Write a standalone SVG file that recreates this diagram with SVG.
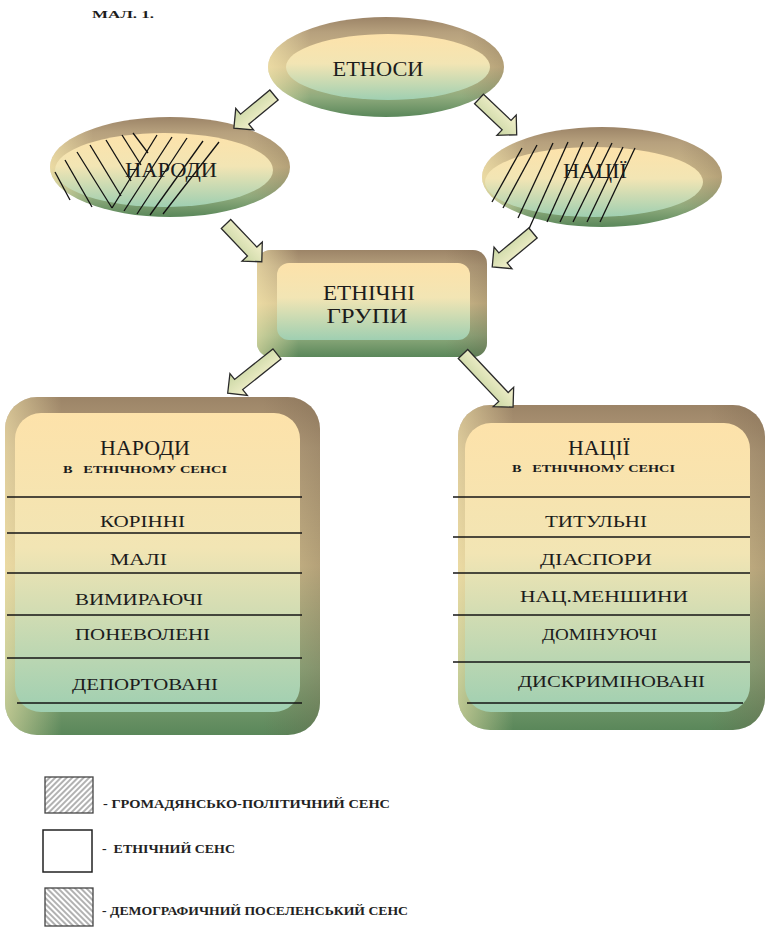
<svg xmlns="http://www.w3.org/2000/svg" width="767" height="929" viewBox="0 0 767 929">
<style>
.lbl{font-family:"Liberation Serif","DejaVu Serif",serif;fill:#1c1c1c;text-anchor:middle}
.big{font-size:21px}
.item{font-size:17px}
.sub{font-size:10px;font-weight:bold;white-space:pre}
.leg{font-family:"Liberation Serif","DejaVu Serif",serif;font-size:12px;font-weight:bold;fill:#222;white-space:pre}
.hatch{stroke:#111;stroke-width:1.3;fill:none}
.row{stroke:#151515;stroke-width:1.3}
.rim{fill:url(#rimV)}
.rimH{fill:url(#rimH)}
.face{fill:url(#faceV)}
.arrow{fill:url(#arrG);stroke:#2a2a2a;stroke-width:1.3;stroke-linejoin:miter}
</style>
<defs>
<linearGradient id="rimV" x1="0" y1="0" x2="0" y2="1">
<stop offset="0" stop-color="#9c8467"/>
<stop offset="0.15" stop-color="#b6a07d"/>
<stop offset="0.5" stop-color="#d2bf8e"/>
<stop offset="0.8" stop-color="#8fab7d"/>
<stop offset="1" stop-color="#5a875a"/>
</linearGradient>
<linearGradient id="rimH" x1="0" y1="0" x2="1" y2="0">
<stop offset="0" stop-color="#fff0b4" stop-opacity="0.55"/>
<stop offset="0.18" stop-color="#fff0b4" stop-opacity="0"/>
<stop offset="0.82" stop-color="#6e5a45" stop-opacity="0"/>
<stop offset="1" stop-color="#6e5a45" stop-opacity="0.3"/>
</linearGradient>
<linearGradient id="faceV" x1="0" y1="0" x2="0" y2="1">
<stop offset="0" stop-color="#fde2aa"/>
<stop offset="0.45" stop-color="#f2e5b4"/>
<stop offset="1" stop-color="#9fcfb1"/>
</linearGradient>
<linearGradient id="arrG" x1="0" y1="0" x2="0" y2="1">
<stop offset="0" stop-color="#f6f2cf"/>
<stop offset="1" stop-color="#c7d5a1"/>
</linearGradient>
<pattern id="hatchF" width="4" height="4" patternUnits="userSpaceOnUse" patternTransform="rotate(45)">
<rect width="4" height="4" fill="#fff"/>
<line x1="1" y1="0" x2="1" y2="4" stroke="#888" stroke-width="1.3"/>
</pattern>
<pattern id="hatchB" width="4" height="4" patternUnits="userSpaceOnUse" patternTransform="rotate(-45)">
<rect width="4" height="4" fill="#fff"/>
<line x1="1" y1="0" x2="1" y2="4" stroke="#888" stroke-width="1.3"/>
</pattern>
</defs>

<rect width="767" height="929" fill="#fff"/>

<text class="lbl" x="92" y="18" style="text-anchor:start;font-size:11px;font-weight:bold" textLength="62" lengthAdjust="spacingAndGlyphs">МАЛ. 1.</text>

<g id="node-etnosy">
<ellipse class="rim" cx="386" cy="67" rx="118" ry="50"/>
<ellipse class="rimH" cx="386" cy="67" rx="118" ry="50"/>
<ellipse class="face" cx="388" cy="67" rx="102" ry="33"/>
<text class="lbl big" x="378" y="76" textLength="91" lengthAdjust="spacingAndGlyphs">ЕТНОСИ</text>
</g>

<g id="node-narody">
<ellipse class="rim" cx="170" cy="167" rx="120" ry="50"/>
<ellipse class="rimH" cx="170" cy="167" rx="120" ry="50"/>
<ellipse class="face" cx="164" cy="170" rx="109" ry="37"/>
<g class="hatch">
<line x1="55" y1="172" x2="70" y2="200"/>
<line x1="65" y1="160" x2="92" y2="207"/>
<line x1="77" y1="152" x2="112" y2="208"/>
<line x1="90" y1="145" x2="121" y2="196"/>
<line x1="106" y1="140" x2="131" y2="181"/>
<line x1="122" y1="135" x2="141" y2="165"/>
<line x1="133" y1="133" x2="148" y2="153"/>
<line x1="112" y1="208" x2="157" y2="135"/>
<line x1="124" y1="211" x2="172" y2="137"/>
<line x1="137" y1="214" x2="187" y2="138"/>
<line x1="150" y1="215" x2="203" y2="141"/>
<line x1="163" y1="214" x2="219" y2="142"/>
</g>
<text class="lbl big" x="171" y="177" textLength="92" lengthAdjust="spacingAndGlyphs">НАРОДИ</text>
</g>

<g id="node-natsii">
<ellipse class="rim" cx="602" cy="177" rx="120" ry="50"/>
<ellipse class="rimH" cx="602" cy="177" rx="120" ry="50"/>
<ellipse class="face" cx="594" cy="182" rx="109" ry="35"/>
<g class="hatch">
<line x1="492" y1="202" x2="522" y2="148"/>
<line x1="503" y1="208" x2="537" y2="145"/>
<line x1="518" y1="218" x2="553" y2="143"/>
<line x1="528" y1="231" x2="568" y2="142"/>
<line x1="547" y1="222" x2="583" y2="142"/>
<line x1="560" y1="222" x2="598" y2="142"/>
<line x1="573" y1="222" x2="612" y2="143"/>
<line x1="587" y1="222" x2="623" y2="147"/>
<line x1="600" y1="222" x2="635" y2="148"/>
</g>
<text class="lbl big" x="595" y="178" textLength="64" lengthAdjust="spacingAndGlyphs">НАЦІЇ</text>
</g>

<g id="node-etnichni-grupy">
<rect class="rim" x="257" y="250" width="230" height="107" rx="14"/>
<rect class="rimH" x="257" y="250" width="230" height="107" rx="14"/>
<rect class="face" x="277" y="263" width="193" height="77" rx="12"/>
<text class="lbl big" x="369" y="300" textLength="92" lengthAdjust="spacingAndGlyphs">ЕТНІЧНІ</text>
<text class="lbl big" x="367" y="323" textLength="81" lengthAdjust="spacingAndGlyphs">ГРУПИ</text>
</g>

<g id="node-narody-etn">
<rect class="rim" x="5" y="397" width="315" height="338" rx="32"/>
<rect class="rimH" x="5" y="397" width="315" height="338" rx="32"/>
<rect class="face" x="15" y="413" width="285" height="299" rx="26"/>
<g class="row">
<line x1="7" y1="497" x2="302" y2="497"/>
<line x1="7" y1="533" x2="302" y2="533"/>
<line x1="7" y1="573" x2="302" y2="573"/>
<line x1="7" y1="615" x2="302" y2="615"/>
<line x1="7" y1="658" x2="302" y2="658"/>
<line x1="17" y1="703" x2="302" y2="703"/>
</g>
<text class="lbl big" x="145" y="455" textLength="90" lengthAdjust="spacingAndGlyphs">НАРОДИ</text>
<text class="lbl sub" x="145" y="473" textLength="164" lengthAdjust="spacingAndGlyphs">В   ЕТНІЧНОМУ СЕНСІ</text>
<text class="lbl item" x="142.5" y="527" textLength="85" lengthAdjust="spacingAndGlyphs">КОРІННІ</text>
<text class="lbl item" x="138.5" y="565" textLength="57" lengthAdjust="spacingAndGlyphs">МАЛІ</text>
<text class="lbl item" x="139" y="605" textLength="128" lengthAdjust="spacingAndGlyphs">ВИМИРАЮЧІ</text>
<text class="lbl item" x="142.5" y="640" textLength="135" lengthAdjust="spacingAndGlyphs">ПОНЕВОЛЕНІ</text>
<text class="lbl item" x="145" y="690" textLength="146" lengthAdjust="spacingAndGlyphs">ДЕПОРТОВАНІ</text>
</g>

<g id="node-natsii-etn">
<rect class="rim" x="458" y="405" width="307" height="325" rx="32"/>
<rect class="rimH" x="458" y="405" width="307" height="325" rx="32"/>
<rect class="face" x="465" y="423" width="285" height="289" rx="26"/>
<g class="row">
<line x1="453" y1="497" x2="750" y2="497"/>
<line x1="453" y1="537" x2="750" y2="537"/>
<line x1="453" y1="573" x2="750" y2="573"/>
<line x1="453" y1="615" x2="750" y2="615"/>
<line x1="453" y1="662" x2="750" y2="662"/>
<line x1="467" y1="703" x2="743" y2="703"/>
</g>
<text class="lbl big" x="599" y="455" textLength="62" lengthAdjust="spacingAndGlyphs">НАЦІЇ</text>
<text class="lbl sub" x="593.5" y="472" textLength="163" lengthAdjust="spacingAndGlyphs">В   ЕТНІЧНОМУ СЕНСІ</text>
<text class="lbl item" x="596" y="527" textLength="102" lengthAdjust="spacingAndGlyphs">ТИТУЛЬНІ</text>
<text class="lbl item" x="596" y="565" textLength="112" lengthAdjust="spacingAndGlyphs">ДІАСПОРИ</text>
<text class="lbl item" x="604" y="602" textLength="168" lengthAdjust="spacingAndGlyphs">НАЦ.МЕНШИНИ</text>
<text class="lbl item" x="599.5" y="640" textLength="115" lengthAdjust="spacingAndGlyphs">ДОМІНУЮЧІ</text>
<text class="lbl item" x="611.5" y="687" textLength="187" lengthAdjust="spacingAndGlyphs">ДИСКРИМІНОВАНІ</text>
</g>

<g id="connectors">
<g transform="translate(274,95) rotate(140.5)"><polygon class="arrow" points="0,-6.5 38,-6.5 38,-14 52,0 38,14 38,6.5 0,6.5"/></g>
<g transform="translate(479,99) rotate(43.5)"><polygon class="arrow" points="0,-6.5 38,-6.5 38,-14 52,0 38,14 38,6.5 0,6.5"/></g>
<g transform="translate(226,224) rotate(46.5)"><polygon class="arrow" points="0,-6.5 38,-6.5 38,-14 52,0 38,14 38,6.5 0,6.5"/></g>
<g transform="translate(533,233) rotate(140.3)"><polygon class="arrow" points="0,-6.5 39,-6.5 39,-14 53,0 39,14 39,6.5 0,6.5"/></g>
<g transform="translate(277,354) rotate(141.5)"><polygon class="arrow" points="0,-6.5 49,-6.5 49,-14 63,0 49,14 49,6.5 0,6.5"/></g>
<g transform="translate(463,354) rotate(46.7)"><polygon class="arrow" points="0,-6.5 59,-6.5 59,-14 73,0 59,14 59,6.5 0,6.5"/></g>
</g>

<g id="legend">
<rect x="45" y="777" width="48" height="36" fill="url(#hatchF)" stroke="#444" stroke-width="1.3"/>
<text class="leg" x="103" y="808" textLength="287" lengthAdjust="spacingAndGlyphs">- ГРОМАДЯНСЬКО-ПОЛІТИЧНИЙ СЕНС</text>
<rect x="43" y="830" width="49" height="42" fill="#fff" stroke="#222" stroke-width="1.5"/>
<text class="leg" x="102" y="853" textLength="133" lengthAdjust="spacingAndGlyphs">-  ЕТНІЧНИЙ СЕНС</text>
<rect x="45" y="888" width="48" height="38" fill="url(#hatchB)" stroke="#444" stroke-width="1.3"/>
<text class="leg" x="102" y="915" textLength="306" lengthAdjust="spacingAndGlyphs">- ДЕМОГРАФИЧНИЙ ПОСЕЛЕНСЬКИЙ СЕНС</text>
</g>
</svg>
